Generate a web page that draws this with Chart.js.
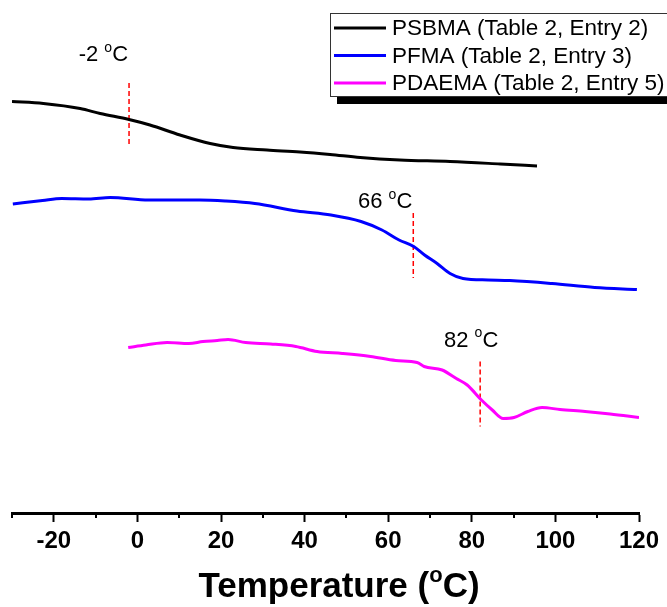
<!DOCTYPE html>
<html>
<head>
<meta charset="utf-8">
<script src="https://cdn.jsdelivr.net/npm/chart.js@4.4.1/dist/chart.umd.min.js"></script>
<style>
  html, body { margin: 0; padding: 0; background: #fff; }
  canvas { display: block; }
</style>
</head>
<body>
<canvas id="dsc" width="667" height="607"></canvas>
<script>
// --- DSC curves (heat flow in arbitrary units) ---
const psbmaT = [-30, -22.5, -13.7, -8.9, -2, 3, 10.2, 17.4, 22.9, 31, 38.9, 46.1, 53.3, 62.8, 74.8, 86.8, 95.6];
const psbmaV = [8.23, 8.19, 8.09, 7.99, 7.87, 7.76, 7.56, 7.39, 7.31, 7.26, 7.22, 7.17, 7.11, 7.06, 7.03, 6.98, 6.94];

const pfmaT = [-29.8, -22.7, -18.1, -11.6, -6.5, 2.7, 14.9, 21, 28.1, 38.2, 46.3, 53.5, 58.5, 62.6, 66.1, 68.7, 71.7, 74.8, 77.9, 83.9, 89.1, 99.2, 109.4, 119.5];
const pfmaV = [6.18, 6.25, 6.29, 6.28, 6.31, 6.26, 6.26, 6.24, 6.19, 6.04, 5.96, 5.83, 5.66, 5.46, 5.33, 5.16, 4.99, 4.79, 4.69, 4.66, 4.65, 4.59, 4.51, 4.47];

const pdaemaT = [-2.2, 2, 7.1, 12.3, 15.7, 19.1, 21.7, 25.9, 31.9, 37.9, 43, 49, 55.8, 61.8, 66.9, 68.6, 72.9, 76.3, 78.9, 82.3, 84.9, 87.5, 90.1, 93.4, 96.8, 101.1, 107.1, 113.1, 120];
const pdaemaV = [3.31, 3.36, 3.41, 3.39, 3.43, 3.45, 3.47, 3.41, 3.38, 3.33, 3.23, 3.19, 3.13, 3.05, 3.01, 2.93, 2.86, 2.69, 2.56, 2.26, 2.06, 1.89, 1.91, 2.03, 2.11, 2.07, 2.03, 1.98, 1.91];

// glass transitions: temperature, top and bottom of the dashed marker
const tgT = [-2, 66, 82];
const tgTop = [8.6, 6.0, 3.03];
const tgBottom = [7.32, 4.7, 1.73];

const seriesNames = ['PSBMA (Table 2, Entry 2)', 'PFMA (Table 2, Entry 3)', 'PDAEMA (Table 2, Entry 5)'];
const seriesColors = ['#000000', '#0000ff', '#ff00ff'];
const xTicks = [-20, 0, 20, 40, 60, 80, 100, 120];

const pairs = (xs, ys) => xs.map((x, i) => ({ x: x, y: ys[i] }));

const curveStyle = (color) => ({
    borderColor: color,
    borderWidth: 3,
    pointRadius: 0,
    cubicInterpolationMode: 'monotone',
    fill: false
});

const datasets = [
    Object.assign({ label: seriesNames[0], data: pairs(psbmaT, psbmaV) }, curveStyle(seriesColors[0])),
    Object.assign({ label: seriesNames[1], data: pairs(pfmaT, pfmaV) }, curveStyle(seriesColors[1])),
    Object.assign({ label: seriesNames[2], data: pairs(pdaemaT, pdaemaV) }, curveStyle(seriesColors[2]))
];

// red dashed Tg markers
tgT.forEach((t, i) => {
    datasets.push({
        label: 'Tg ' + t,
        data: [{ x: t, y: tgTop[i] }, { x: t, y: tgBottom[i] }],
        borderColor: '#ff0000',
        borderWidth: 1.5,
        borderDash: [5, 3],
        pointRadius: 0,
        tension: 0
    });
});

// draws "prefix" + superscript o + "C" (the degree sign as in the original)
function degText(ctx, prefix, x, y, size, weight, align) {
    const main = weight + ' ' + size + 'px "Liberation Sans", Arial, sans-serif';
    const small = weight + ' ' + Math.round(size * 0.62) + 'px "Liberation Sans", Arial, sans-serif';
    const tail = prefix.endsWith('(') ? 'C)' : 'C';
    ctx.font = main;
    const w1 = ctx.measureText(prefix).width;
    const w3 = ctx.measureText(tail).width;
    ctx.font = small;
    const w2 = ctx.measureText('o').width;
    const total = w1 + w2 + w3;
    let x0 = x;
    if (align === 'right') x0 = x - total;
    if (align === 'center') x0 = x - total / 2;
    ctx.textBaseline = 'alphabetic';
    ctx.textAlign = 'left';
    ctx.fillStyle = '#000';
    ctx.font = main;
    ctx.fillText(prefix, x0, y);
    ctx.font = small;
    ctx.fillText('o', x0 + w1, y - size * 0.42);
    ctx.font = main;
    ctx.fillText(tail, x0 + w1 + w2, y);
}

// label placement next to each marker (dx from line, dy above its top)
const tgLabelPlace = [
    { dx: -1, dy: -22, align: 'right' },
    { dx: -1, dy: -5, align: 'right' },
    { dx: -9, dy: -15, align: 'center' }
];

const decorations = {
    id: 'decorations',
    afterDatasetsDraw(chart) {
        const ctx = chart.ctx;
        const xs = chart.scales.x;
        const ys = chart.scales.y;
        ctx.save();

        // minor ticks
        ctx.strokeStyle = '#000';
        ctx.lineWidth = 2;
        for (let v = -30; v <= 120; v += 20) {
            const px = Math.round(xs.getPixelForValue(v));
            ctx.beginPath();
            ctx.moveTo(px, chart.chartArea.bottom);
            ctx.lineTo(px, chart.chartArea.bottom + 5);
            ctx.stroke();
        }

        // Tg labels
        tgT.forEach((t, i) => {
            const p = tgLabelPlace[i];
            const px = xs.getPixelForValue(t) + p.dx;
            const py = ys.getPixelForValue(tgTop[i]) + p.dy;
            degText(ctx, t + ' ', px, py, 22, 'normal', p.align);
        });

        // axis title
        degText(ctx, 'Temperature (', 339, 597, 35, 'bold', 'center');

        // legend box with shadow
        const bx = 330, by = 13, bw = 345, bh = 83;
        ctx.fillStyle = '#000';
        ctx.fillRect(bx + 7, by + bh, bw, 8);
        ctx.fillStyle = '#fff';
        ctx.fillRect(bx, by, bw, bh);
        ctx.strokeStyle = '#333';
        ctx.lineWidth = 1;
        ctx.strokeRect(bx + 0.5, by + 0.5, bw, bh);
        seriesNames.forEach((name, i) => {
            const ly = 28 + i * 27.5;
            ctx.strokeStyle = seriesColors[i];
            ctx.lineWidth = 3;
            ctx.beginPath();
            ctx.moveTo(334, ly);
            ctx.lineTo(386, ly);
            ctx.stroke();
            ctx.fillStyle = '#000';
            ctx.font = '22.5px "Liberation Sans", Arial, sans-serif';
            ctx.textAlign = 'left';
            ctx.textBaseline = 'middle';
            ctx.fillText(name, 392, ly + 1);
        });
        ctx.restore();
    }
};

new Chart(document.getElementById('dsc'), {
    type: 'line',
    data: { datasets: datasets },
    options: {
        responsive: false,
        animation: false,
        layout: { padding: { left: 12, right: 28, top: 13, bottom: 0 } },
        plugins: {
            legend: { display: false },
            tooltip: { enabled: false }
        },
        scales: {
            x: {
                type: 'linear',
                min: -30,
                max: 120,
                afterBuildTicks: (scale) => { scale.ticks = xTicks.map(v => ({ value: v })); },
                afterFit: (scale) => { scale.height = 94; },
                ticks: {
                    autoSkip: false,
                    maxRotation: 0,
                    padding: 5,
                    color: '#000',
                    font: { family: '"Liberation Sans", Arial, sans-serif', weight: 'bold', size: 24 }
                },
                grid: { drawOnChartArea: false, tickLength: 9, tickWidth: 2, tickColor: '#000' },
                border: { display: true, color: '#000', width: 3 }
            },
            y: { display: false, min: 0, max: 10 }
        }
    },
    plugins: [decorations]
});
</script>
</body>
</html>
